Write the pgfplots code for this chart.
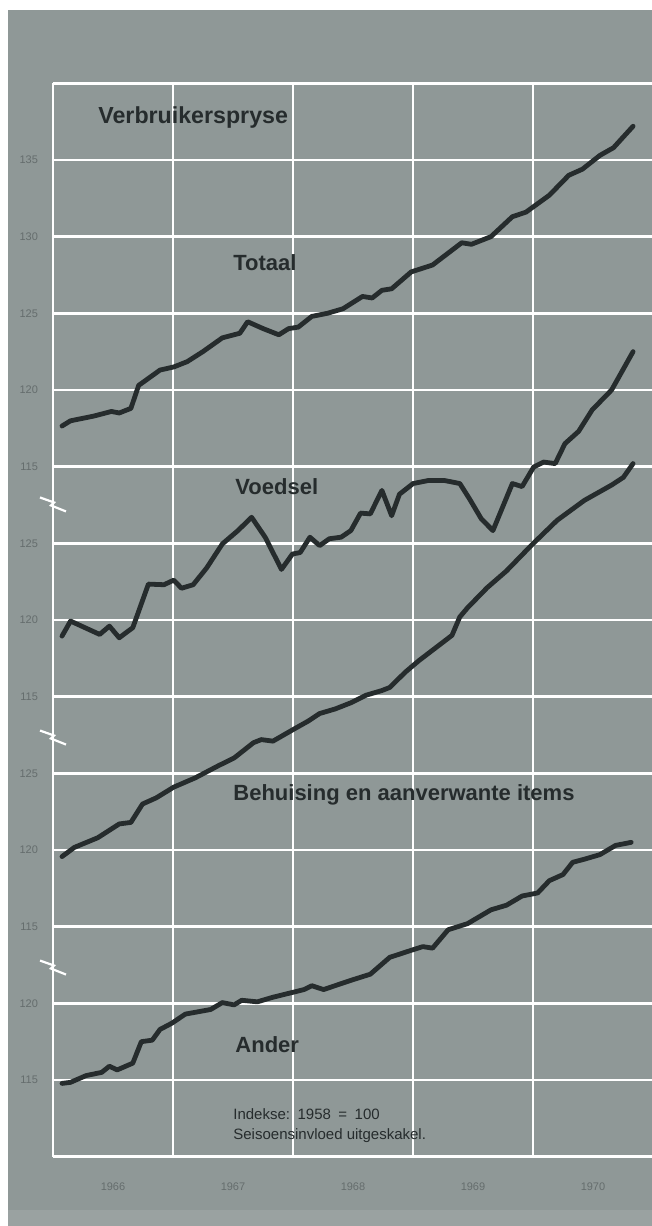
\documentclass[border=0pt]{standalone}
\usepackage{fontspec}
\setmainfont{Liberation Sans}
\usepackage{pgfplots}
\pgfplotsset{compat=1.18}
\definecolor{bg}{HTML}{8F9897}
\definecolor{ink}{HTML}{262C2D}
\definecolor{tick}{HTML}{656D6D}
\pgfplotsset{ser/.style={ink, line width=2.4pt, line join=round, line cap=round, mark=none}}
\begin{document}
\begin{tikzpicture}
\path[use as bounding box, fill=bg] (0,0) rectangle (326pt,613pt);
\fill[white] (0,0) rectangle (4pt,613pt);
\fill[white] (0,608pt) rectangle (326pt,613pt);
\fill[bg!90!white] (4pt,0) rectangle (326pt,8pt);
\begin{axis}[
  at={(26.5pt,34.65pt)}, anchor=south west,
  scale only axis, width=300pt, height=536.7pt,
  xmin=1966, xmax=1971, ymin=70, ymax=140,
  clip=false,
  axis line style={draw=none},
  xtick={1966.5,1967.5,1968.5,1969.5,1970.5},
  xticklabels={1966,1967,1968,1969,1970},
  minor xtick={1966,1967,1968,1969,1970},
  xminorgrids=true,
  ytick={70,75,...,140},
  yticklabels={,115,120,115,120,125,115,120,125,115,120,125,130,135,},
  ymajorgrids=true,
  major tick length=0pt, minor tick length=0pt,
  grid style={white, line width=1.3pt},
  minor grid style={white, line width=1.3pt},
  xticklabel style={font=\fontsize{5.5}{6}\selectfont, text=tick, anchor=center, yshift=-15pt},
  yticklabel style={font=\fontsize{5.5}{6}\selectfont, text=tick, anchor=east, xshift=-4pt},
]
% Totaal
\addplot[ser] coordinates {(1966.075,117.65) (1966.146,117.99) (1966.341,118.3) (1966.487,118.6) (1966.552,118.5) (1966.649,118.8) (1966.714,120.3) (1966.892,121.3) (1967.006,121.5) (1967.119,121.85) (1967.249,122.5) (1967.411,123.4) (1967.557,123.7) (1967.622,124.45) (1967.752,124.0) (1967.882,123.6) (1967.963,124.0) (1968.044,124.1) (1968.157,124.8) (1968.287,125.0) (1968.417,125.3) (1968.579,126.1) (1968.660,126.0) (1968.741,126.5) (1968.822,126.6) (1968.985,127.7) (1969.163,128.15) (1969.406,129.6) (1969.487,129.5) (1969.650,130.0) (1969.828,131.3) (1969.942,131.6) (1970.136,132.7) (1970.298,134.0) (1970.412,134.4) (1970.558,135.3) (1970.671,135.8) (1970.834,137.2)};
% Voedsel
\addplot[ser, y filter/.expression={y-15}] coordinates {(1966.075,118.95) (1966.146,119.93) (1966.389,119.06) (1966.470,119.6) (1966.552,118.84) (1966.665,119.5) (1966.795,122.34) (1966.925,122.3) (1967.006,122.6) (1967.071,122.07) (1967.168,122.3) (1967.281,123.4) (1967.411,124.96) (1967.541,125.83) (1967.655,126.7) (1967.768,125.4) (1967.904,123.3) (1967.995,124.3) (1968.060,124.4) (1968.141,125.4) (1968.222,124.85) (1968.303,125.3) (1968.401,125.4) (1968.482,125.83) (1968.563,126.97) (1968.644,126.92) (1968.741,128.45) (1968.822,126.8) (1968.887,128.2) (1969.001,128.9) (1969.131,129.1) (1969.260,129.1) (1969.390,128.9) (1969.471,127.9) (1969.569,126.6) (1969.666,125.83) (1969.828,128.9) (1969.909,128.7) (1970.006,129.98) (1970.088,130.3) (1970.185,130.2) (1970.266,131.5) (1970.380,132.3) (1970.493,133.7) (1970.655,135.0) (1970.834,137.5)};
% Behuising en aanverwante items
\addplot[ser, y filter/.expression={y-30}] coordinates {(1966.075,119.57) (1966.178,120.17) (1966.373,120.8) (1966.552,121.7) (1966.649,121.8) (1966.746,123.0) (1966.860,123.4) (1967.006,124.1) (1967.184,124.7) (1967.379,125.5) (1967.509,126.0) (1967.671,127.0) (1967.736,127.2) (1967.833,127.1) (1968.011,127.9) (1968.125,128.4) (1968.222,128.9) (1968.352,129.2) (1968.482,129.6) (1968.611,130.1) (1968.741,130.4) (1968.806,130.6) (1968.936,131.6) (1969.049,132.35) (1969.325,134.0) (1969.390,135.2) (1969.455,135.8) (1969.617,137.1) (1969.779,138.2) (1969.990,139.9) (1970.201,141.5) (1970.428,142.8) (1970.655,143.8) (1970.753,144.3) (1970.834,145.2)};
% Ander
\addplot[ser, y filter/.expression={y-40}] coordinates {(1966.075,114.78) (1966.146,114.85) (1966.276,115.29) (1966.406,115.5) (1966.470,115.9) (1966.535,115.66) (1966.665,116.1) (1966.736,117.5) (1966.827,117.6) (1966.892,118.3) (1966.989,118.7) (1967.103,119.3) (1967.314,119.6) (1967.411,120.05) (1967.509,119.9) (1967.573,120.2) (1967.703,120.1) (1967.833,120.4) (1967.963,120.65) (1968.092,120.9) (1968.157,121.15) (1968.255,120.9) (1968.482,121.5) (1968.644,121.9) (1968.806,123.0) (1969.001,123.5) (1969.082,123.7) (1969.163,123.6) (1969.293,124.8) (1969.455,125.2) (1969.650,126.1) (1969.779,126.4) (1969.909,127.0) (1970.039,127.2) (1970.136,128.0) (1970.250,128.4) (1970.331,129.2) (1970.428,129.4) (1970.558,129.7) (1970.688,130.3) (1970.818,130.5)};
% axis breaks
\pgfplotsinvokeforeach{112.6,97.4,82.4}{
  \draw[white, line width=1.1pt, line join=miter] (axis cs:1966,#1) ++(-6.5pt,3pt) -- ++(7pt,-2.5pt) -- ++(-1.5pt,-1.5pt) -- ++(7.5pt,-3pt);
}
\begin{scope}[every node/.style={anchor=west, inner sep=0pt, text=ink}]
\node[font=\fontsize{11.6}{13}\selectfont\bfseries] at (axis cs:1966.375,137.8) {Verbruikerspryse};
\node[font=\fontsize{11}{13}\selectfont\bfseries] at (axis cs:1967.5,128.3) {Totaal};
\node[font=\fontsize{11}{13}\selectfont\bfseries] at (axis cs:1967.517,113.7) {Voedsel};
\node[font=\fontsize{11}{13}\selectfont\bfseries] at (axis cs:1967.5,93.6) {Behuising en aanverwante items};
\node[font=\fontsize{11}{13}\selectfont\bfseries] at (axis cs:1967.517,77.3) {Ander};
\node[font=\fontsize{7.5}{9}\selectfont] at (axis cs:1967.5,72.75) {Indekse:\enspace 1958\enspace =\enspace 100};
\node[font=\fontsize{7.5}{9}\selectfont] at (axis cs:1967.5,71.4) {Seisoensinvloed uitgeskakel.};
\end{scope}
\end{axis}
\end{tikzpicture}
\end{document}
